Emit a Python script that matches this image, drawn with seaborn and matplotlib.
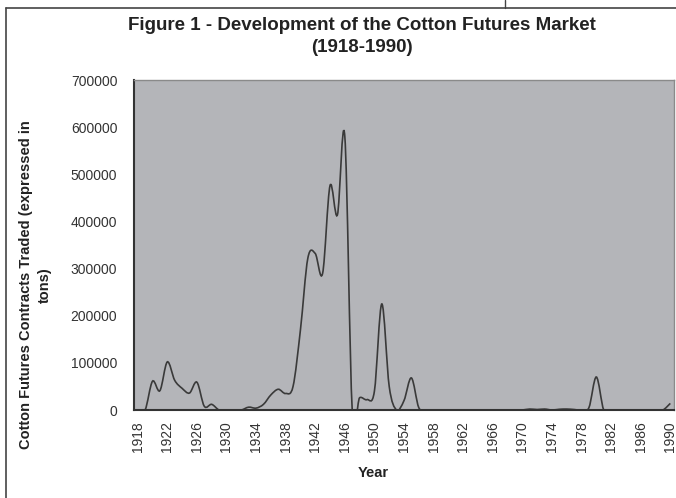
import numpy as np
import pandas as pd
import seaborn as sns
import matplotlib.pyplot as plt
from matplotlib.path import Path
from matplotlib.patches import PathPatch
from matplotlib.lines import Line2D

# annual cotton futures contracts traded (tons)
years = list(range(1918, 1991))
tons = [
    0, 0, 61000, 41000, 102000, 63000, 46000, 36000, 59000, 8000,        # 1918-1927
    12000, 0, 0, 0, 0, 6000, 4000, 12000, 32000, 44000,                 # 1928-1937
    35000, 50000, 170000, 322000, 332000, 290000, 476000, 414000, 580000, 0,  # 1938-1947
    26000, 22000, 40000, 225000, 50000, 0, 20000, 68000, 5000, 0,       # 1948-1957
    0, 0, 0, 0, 0, 0, 0, 0, 0, 0,                                       # 1958-1967
    0, 0, 0, 2000, 1000, 2000, 0, 1500, 2000, 1000,                     # 1968-1977
    0, 5000, 70000, 0, 0, 0, 0, 0, 0, 0,                                # 1978-1987
    0, 0, 14000,                                                        # 1988-1990
]
label_years = list(range(1918, 1991, 4))
y_ticks = list(range(0, 700001, 100000))

df = pd.DataFrame({'year': years, 'tons': tons})

sns.set_style('white')
plt.rcParams['font.family'] = ['Liberation Sans', 'DejaVu Sans']

fig = plt.figure(figsize=(6.76, 4.98), dpi=100)
ax = fig.add_axes([134 / 676, 88 / 498, 540 / 676, 330 / 498])
ax.set_facecolor('#b4b5b9')

sns.lineplot(data=df, x='year', y='tons', ax=ax, color='#3a3a3a', lw=1.2)

# Excel style smoothed line: cubic bezier between the data points
line = ax.lines[0]
xy = line.get_xydata()
verts = [xy[0]]
codes = [Path.MOVETO]
n = len(xy)
for i in range(n - 1):
    p0, p1 = xy[max(i - 1, 0)], xy[i]
    p2, p3 = xy[i + 1], xy[min(i + 2, n - 1)]
    verts += [p1 + (p2 - p0) / 6, p2 - (p3 - p1) / 6, p2]
    codes += [Path.CURVE4] * 3
line.set_visible(False)
ax.add_patch(PathPatch(Path(verts, codes), fill=False, ec='#3a3a3a', lw=1.2))

ax.set_xlim(1917.5, 1990.5)
ax.set_ylim(0, 700000)
ax.set_yticks(y_ticks)
ax.set_yticklabels([str(v) for v in y_ticks])
ax.set_xticks(label_years)
ax.set_xticklabels([str(y) for y in label_years], rotation=90)
ax.set_xticks(years, minor=True)
ax.set_xlabel('')
ax.set_ylabel('')

ax.tick_params(axis='x', which='both', direction='inout', length=8, width=1,
               color='#333333', labelsize=10, labelcolor='#333333', pad=4)
ax.tick_params(axis='y', direction='out', length=6, width=1,
               color='#333333', labelsize=10, labelcolor='#333333', pad=6)

for side in ['left', 'bottom']:
    ax.spines[side].set_color('#333333')
    ax.spines[side].set_linewidth(1.5)
for side in ['top', 'right']:
    ax.spines[side].set_color('#8a8a8a')
    ax.spines[side].set_linewidth(1)

fig.text(362 / 676, 1 - 25 / 498, 'Figure 1 - Development of the Cotton Futures Market',
         ha='center', va='center', fontsize=13.5, fontweight='bold', color='#222222')
fig.text(362 / 676, 1 - 48 / 498, '(1918-1990)',
         ha='center', va='center', fontsize=13.5, fontweight='bold', color='#222222')
fig.text(35 / 676, 1 - 285 / 498, 'Cotton Futures Contracts Traded (expressed in\ntons)',
         rotation=90, ha='center', va='center', multialignment='center',
         fontsize=10.5, fontweight='bold', linespacing=1.45, color='#222222')
fig.text(373 / 676, 1 - 473 / 498, 'Year', ha='center', va='center',
         fontsize=10.5, fontweight='bold', color='#222222')

# chart area border (page crop)
fig.add_artist(Line2D([6 / 676, 6 / 676], [0, 1 - 8 / 498], transform=fig.transFigure,
                      color='#444444', lw=1.2))
fig.add_artist(Line2D([6 / 676, 1], [1 - 8 / 498, 1 - 8 / 498], transform=fig.transFigure,
                      color='#444444', lw=1.2))
fig.add_artist(Line2D([505 / 676, 505 / 676], [1 - 8 / 498, 1], transform=fig.transFigure,
                      color='#444444', lw=1.0))

fig.savefig('out.png', dpi=100)
